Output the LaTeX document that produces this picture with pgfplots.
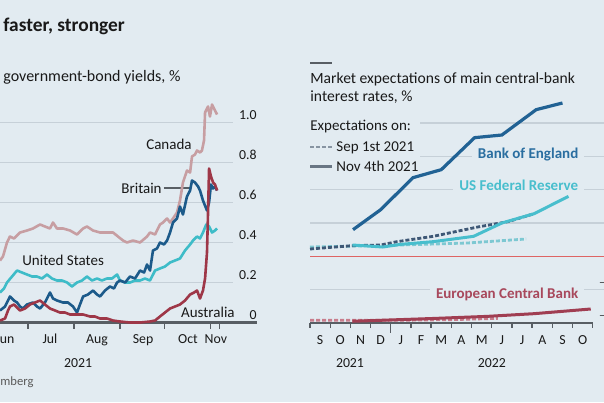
\documentclass[border=0pt]{standalone}
\usepackage{pgfplots}
\pgfplotsset{compat=1.18}
\usepackage{fontspec}
\setmainfont{Carlito}
\definecolor{bg}{RGB}{226,235,241}
\definecolor{gridc}{RGB}{198,208,216}
\definecolor{axc}{RGB}{88,94,100}
\definecolor{txt}{RGB}{25,25,25}
\definecolor{canada}{RGB}{199,158,162}
\definecolor{britain}{RGB}{28,90,138}
\definecolor{usc}{RGB}{62,188,200}
\definecolor{aus}{RGB}{158,55,72}
\definecolor{boe}{RGB}{33,98,148}
\definecolor{boelbl}{RGB}{42,110,160}
\definecolor{boesep}{RGB}{62,88,118}
\definecolor{fed}{RGB}{72,190,205}
\definecolor{fedsep}{RGB}{125,200,210}
\definecolor{ecb}{RGB}{160,62,82}
\definecolor{ecblbl}{RGB}{168,72,92}
\definecolor{ecbsep}{RGB}{200,125,140}
\definecolor{zeroc}{RGB}{222,100,100}
\definecolor{legdot}{RGB}{135,148,162}
\definecolor{legsol}{RGB}{105,118,132}
\definecolor{srcc}{RGB}{90,90,90}
\newcommand\lblfont{\fontsize{7.5}{9}\selectfont}
\newcommand\tickfont{\fontsize{6.9}{8}\selectfont}
\tikzset{
  grd/.style={gridc, line width=0.7pt},
  tk/.style={axc, line width=0.7pt},
  tl/.style={anchor=base, inner sep=0pt, font=\tickfont, text=txt},
  yl/.style={anchor=base east, inner sep=0pt, font=\tickfont, text=txt, yshift=1.4pt},
}
\begin{document}
\begin{tikzpicture}
\useasboundingbox (0pt,0pt) rectangle (302pt,-201pt);
\clip (0pt,0pt) rectangle (302pt,-201pt);
\fill[bg] (0pt,0pt) rectangle (302pt,-201pt);

% ---------------- left panel ----------------
\begin{axis}[at={(0pt,-161.25pt)}, anchor=south west, scale only axis,
  width=128.5pt, height=110pt, xmin=163, xmax=336.2, ymin=0, ymax=1.1,
  hide axis, clip=false]
\draw[grd] (axis cs:163,0.2) -- (axis cs:320,0.2);
\draw[grd] (axis cs:163,0.4) -- (axis cs:320,0.4);
\draw[grd] (axis cs:163,0.6) -- (axis cs:320,0.6);
\draw[grd] (axis cs:163,0.8) -- (axis cs:320,0.8);
\draw[grd] (axis cs:163,1.0) -- (axis cs:320,1.0);
\draw[axc, line width=1.1pt] (axis cs:163,0) -- (axis cs:336.2,0);
\draw[tk] (axis cs:182,0) -- ++(0pt,-3pt);
\draw[tk] (axis cs:213,0) -- ++(0pt,-3pt);
\draw[tk] (axis cs:244,0) -- ++(0pt,-3pt);
\draw[tk] (axis cs:274,0) -- ++(0pt,-3pt);
\draw[tk] (axis cs:305,0) -- ++(0pt,-3pt);
\draw[tk] (axis cs:311,0) -- ++(0pt,-3pt);
\node[yl] at (axis cs:336.2,1.0) {1.0};
\node[yl] at (axis cs:336.2,0.8) {0.8};
\node[yl] at (axis cs:336.2,0.6) {0.6};
\node[yl] at (axis cs:336.2,0.4) {0.4};
\node[yl] at (axis cs:336.2,0.2) {0.2};
\node[yl] at (axis cs:336.2,0) {0};
\node[tl, yshift=-10.25pt] at (axis cs:166.4,0) {Jun};
\node[tl, yshift=-10.25pt] at (axis cs:196.7,0) {Jul};
\node[tl, yshift=-10.25pt] at (axis cs:228.4,0) {Aug};
\node[tl, yshift=-10.25pt] at (axis cs:259.4,0) {Sep};
\node[tl, yshift=-10.25pt] at (axis cs:289.7,0) {Oct};
\node[tl, yshift=-10.25pt] at (axis cs:308.5,0) {Nov};
\node[tl, yshift=-22.25pt] at (axis cs:215.6,0) {2021};
\node[anchor=base east, inner sep=0pt, font=\lblfont, text=txt] at (axis cs:292.4,0.8675) {Canada};
\node[anchor=base east, inner sep=0pt, font=\lblfont, text=txt] at (axis cs:272.2,0.6475) {Britain};
\draw[axc, line width=0.6pt] (axis cs:273.5,0.6725) -- (axis cs:291.7,0.6725);
\node[anchor=base west, inner sep=0pt, font=\lblfont, text=txt] at (axis cs:177.8,0.2875) {United States};
\node[anchor=base east, inner sep=0pt, font=\lblfont, text=txt] at (axis cs:321.4,0.0275) {Australia};

\addplot[canada, line width=1.3pt, line join=round] coordinates {
(163,0.31) (165,0.33) (167.7,0.40) (169.7,0.43) (172.4,0.42) (176.5,0.45) (181.2,0.46)
(185.2,0.47) (190,0.49) (193.3,0.48) (196.7,0.47) (198.7,0.50) (201.4,0.47) (205.5,0.47)
(210.2,0.46) (214.9,0.44) (219,0.47) (221.6,0.48) (225.7,0.46) (230.4,0.45) (235.1,0.45)
(239.2,0.45) (242.5,0.43) (245.9,0.41) (248.6,0.40) (252.6,0.41) (257.4,0.40) (262.1,0.43)
(264.1,0.45) (267.5,0.44) (270.8,0.49) (272.9,0.50) (275.6,0.52) (277.6,0.50) (279.6,0.52)
(282.3,0.55) (284.3,0.61) (286.3,0.70) (289,0.76) (291.1,0.75) (292.4,0.83) (294.4,0.84)
(295.8,0.86) (297.8,0.85) (299.1,0.86) (300.5,0.91) (301.2,1.05) (303.2,1.08) (304.5,1.03)
(305.9,1.09) (307.9,1.06) (309.3,1.04)};
\addplot[usc, line width=1.3pt, line join=round] coordinates {
(163,0.15) (165.7,0.17) (167.7,0.20) (171.1,0.23) (174.5,0.26) (177.8,0.25) (181.2,0.24)
(184.6,0.23) (187.9,0.23) (191.3,0.22) (194.7,0.24) (198,0.22) (201.4,0.21) (204.8,0.21)
(208.2,0.20) (211.5,0.18) (214.9,0.20) (218.3,0.21) (221.6,0.23) (225,0.21) (228.4,0.22)
(231.7,0.21) (235.1,0.22) (238.5,0.22) (241.9,0.24) (243.9,0.21) (247.3,0.20) (250.6,0.20)
(254,0.21) (257.4,0.21) (260.7,0.22) (264.1,0.21) (267.5,0.26) (270.8,0.27) (274.2,0.28)
(277.6,0.30) (281,0.31) (284.3,0.32) (287.7,0.36) (291.1,0.39) (293.1,0.41) (295.8,0.43)
(297.8,0.42) (299.8,0.45) (302,0.49) (303.9,0.48) (305.9,0.45) (307.9,0.46) (309.3,0.47)};
\addplot[britain, line width=1.3pt, line join=round] coordinates {
(163,0.06) (166.4,0.08) (169.7,0.13) (172.4,0.11) (174.5,0.10) (176.5,0.08) (178.5,0.07)
(181.2,0.09) (185.2,0.10) (187.9,0.08) (190,0.07) (193.3,0.10) (196.7,0.15) (198.7,0.12)
(201.4,0.11) (205.5,0.10) (208.8,0.10) (212.2,0.08) (214.9,0.05) (216.9,0.09) (219,0.13)
(222.3,0.14) (225.7,0.16) (228.4,0.14) (230.4,0.13) (233.8,0.16) (237.1,0.18) (239.8,0.17)
(241.9,0.20) (243.9,0.21) (247.3,0.20) (250.6,0.23) (254,0.22) (257.4,0.26) (260.1,0.25)
(262.1,0.29) (264.1,0.26) (266.1,0.36) (268.8,0.37) (270.8,0.40) (273.5,0.39) (275.6,0.41)
(277.6,0.45) (279.6,0.50) (282.3,0.52) (284.3,0.58) (286.3,0.54) (289,0.63) (291.1,0.66)
(292.4,0.71) (294.4,0.70) (296.5,0.68) (297.8,0.66) (299.8,0.61) (302.5,0.56) (303.9,0.60)
(305.2,0.69) (306.6,0.67) (307.9,0.68) (309.3,0.66)};
\addplot[aus, line width=1.3pt, line join=round] coordinates {
(163,0.01) (166.4,0.02) (168.4,0.06) (169.7,0.08) (172.4,0.09) (176.5,0.06) (179.9,0.07)
(183.2,0.09) (186.6,0.10) (190,0.11) (193.3,0.09) (196.7,0.07) (200.1,0.06) (203.4,0.05)
(206.8,0.05) (210.2,0.04) (214.9,0.04) (219,0.04) (223.7,0.03) (227,0.03) (230.4,0.02)
(235.1,0.02) (239.2,0.01) (243.9,0.005) (250.6,0.0) (257.4,0.0) (264.1,0.005) (267.5,0.01)
(270.8,0.03) (274.2,0.05) (277.6,0.07) (281,0.08) (284.3,0.09) (287.7,0.11) (291.1,0.14)
(293.8,0.15) (295.8,0.16) (297.8,0.12) (299.8,0.16) (301.2,0.22) (302.5,0.35) (303.2,0.55)
(303.9,0.77) (305.2,0.73) (306.6,0.70) (307.9,0.69) (309.3,0.66)};
\end{axis}

% ---------------- right panel ----------------
\begin{axis}[at={(155pt,-161.5pt)}, anchor=south west, scale only axis,
  width=165pt, height=116.67pt, xmin=0, xmax=16.34, ymin=-0.5, ymax=1.25,
  hide axis, clip=false]
\draw[grd] (axis cs:5.45,1.0) -- (axis cs:16.34,1.0);
\draw[grd] (axis cs:5.45,0.75) -- (axis cs:16.34,0.75);
\draw[grd] (axis cs:0,0.5) -- (axis cs:16.34,0.5);
\draw[grd] (axis cs:0,0.25) -- (axis cs:16.34,0.25);
\draw[grd] (axis cs:0,-0.25) -- (axis cs:16.34,-0.25);
\draw[zeroc, line width=0.7pt] (axis cs:0,0) -- (axis cs:16.34,0);
\draw[axc, line width=1.1pt] (axis cs:0,-0.5) -- (axis cs:14,-0.5);
\draw[tk] (axis cs:0,-0.5) -- ++(0pt,-2.5pt);
\draw[tk] (axis cs:1,-0.5) -- ++(0pt,-2.5pt);
\draw[tk] (axis cs:2,-0.5) -- ++(0pt,-2.5pt);
\draw[tk] (axis cs:3,-0.5) -- ++(0pt,-2.5pt);
\draw[tk] (axis cs:4,-0.5) -- ++(0pt,-5pt);
\draw[tk] (axis cs:5,-0.5) -- ++(0pt,-2.5pt);
\draw[tk] (axis cs:6,-0.5) -- ++(0pt,-2.5pt);
\draw[tk] (axis cs:7,-0.5) -- ++(0pt,-2.5pt);
\draw[tk] (axis cs:8,-0.5) -- ++(0pt,-2.5pt);
\draw[tk] (axis cs:9,-0.5) -- ++(0pt,-2.5pt);
\draw[tk] (axis cs:10,-0.5) -- ++(0pt,-2.5pt);
\draw[tk] (axis cs:11,-0.5) -- ++(0pt,-2.5pt);
\draw[tk] (axis cs:12,-0.5) -- ++(0pt,-2.5pt);
\draw[tk] (axis cs:13,-0.5) -- ++(0pt,-2.5pt);
\draw[tk] (axis cs:14,-0.5) -- ++(0pt,-2.5pt);
\node[tl, yshift=-10.5pt] at (axis cs:0.5,-0.5) {S};
\node[tl, yshift=-10.5pt] at (axis cs:1.5,-0.5) {O};
\node[tl, yshift=-10.5pt] at (axis cs:2.5,-0.5) {N};
\node[tl, yshift=-10.5pt] at (axis cs:3.5,-0.5) {D};
\node[tl, yshift=-10.5pt] at (axis cs:4.5,-0.5) {J};
\node[tl, yshift=-10.5pt] at (axis cs:5.5,-0.5) {F};
\node[tl, yshift=-10.5pt] at (axis cs:6.5,-0.5) {M};
\node[tl, yshift=-10.5pt] at (axis cs:7.5,-0.5) {A};
\node[tl, yshift=-10.5pt] at (axis cs:8.5,-0.5) {M};
\node[tl, yshift=-10.5pt] at (axis cs:9.5,-0.5) {J};
\node[tl, yshift=-10.5pt] at (axis cs:10.5,-0.5) {J};
\node[tl, yshift=-10.5pt] at (axis cs:11.5,-0.5) {A};
\node[tl, yshift=-10.5pt] at (axis cs:12.5,-0.5) {S};
\node[tl, yshift=-10.5pt] at (axis cs:13.5,-0.5) {O};
\node[tl, yshift=-22pt] at (axis cs:1.98,-0.5) {2021};
\node[tl, yshift=-22pt] at (axis cs:9.0,-0.5) {2022};
\node[anchor=base west, inner sep=0pt, font=\tickfont, text=txt, yshift=1.6pt] at (axis cs:14.26,-0.25) {$-$0.25};
\node[anchor=base west, inner sep=0pt, font=\tickfont, text=txt, yshift=1.6pt] at (axis cs:14.26,-0.5) {$-$0.50};
\node[anchor=base east, fill=bg, inner xsep=3pt, inner ysep=1.5pt, font=\bfseries\lblfont, text=boelbl, yshift=-1.2pt] at (axis cs:13.6,0.75) {Bank of England};
\node[anchor=base east, fill=bg, inner xsep=3pt, inner ysep=1.5pt, font=\bfseries\lblfont, text=fed] at (axis cs:13.6,0.495) {US Federal Reserve};
\node[anchor=base east, fill=bg, inner xsep=3pt, inner ysep=1.5pt, font=\bfseries\lblfont, text=ecblbl] at (axis cs:13.6,-0.319) {European Central Bank};

\addplot[ecbsep, line width=1.4pt, dash pattern=on 2pt off 1pt] coordinates {
(0,-0.48) (4,-0.48) (7,-0.475) (9.3,-0.465)};
\addplot[ecb, line width=1.5pt] coordinates {
(2.1,-0.487) (6.1,-0.466) (8.8,-0.45) (11.1,-0.43) (13.9,-0.395)};
\addplot[fedsep, line width=1.4pt, dash pattern=on 2pt off 1pt] coordinates {
(0,0.07) (4.5,0.085) (7.8,0.10) (10.7,0.13)};
\addplot[boesep, line width=1.4pt, dash pattern=on 2pt off 1pt] coordinates {
(0,0.055) (2.1,0.08) (3.5,0.085) (4.3,0.11) (6.1,0.15) (8.3,0.22) (9.8,0.26) (11.1,0.32)};
\addplot[fed, line width=1.5pt] coordinates {
(2.1,0.085) (3.6,0.07) (4.5,0.09) (6.1,0.11) (8.1,0.15) (9.5,0.25) (11.1,0.32) (12.8,0.45)};
\addplot[boe, line width=1.6pt] coordinates {
(2.13,0.20) (3.5,0.35) (5.1,0.59) (6.5,0.65) (8.15,0.89) (9.5,0.91) (11.2,1.10) (12.5,1.15)};
\end{axis}

% ---------------- titles, legend (pixel coordinates) ----------------
\begin{scope}[x=0.5pt,y=-0.5pt]
\node[anchor=base west, inner sep=0pt, font=\bfseries\fontsize{9.7}{11}\selectfont, text=txt] at (3,31.7) {faster, stronger};
\node[anchor=base west, inner sep=0pt, font=\fontsize{8}{10}\selectfont, text=txt] at (3,81.7) {government-bond yields, \%};
\node[anchor=base west, inner sep=0pt, font=\fontsize{6.3}{8}\selectfont, text=srcc] at (0,385) {mberg};
\draw[axc, line width=1pt] (310,63) -- (332,63);
\node[anchor=base west, inner sep=0pt, font=\fontsize{7.8}{10}\selectfont, text=txt] at (310,83.5) {Market expectations of main central-bank};
\node[anchor=base west, inner sep=0pt, font=\fontsize{7.8}{10}\selectfont, text=txt] at (310,101) {interest rates, \%};
\node[anchor=base west, inner sep=0pt, font=\lblfont, text=txt] at (310,130) {Expectations on:};
\draw[legdot, line width=1.4pt, dash pattern=on 2pt off 1pt] (310,147) -- (332,147);
\node[anchor=base west, inner sep=0pt, font=\lblfont, text=txt] at (336,151.7) {Sep 1st 2021};
\draw[legsol, line width=1.5pt] (310,166) -- (332,166);
\node[anchor=base west, inner sep=0pt, font=\lblfont, text=txt] at (336,171.7) {Nov 4th 2021};
\end{scope}
\end{tikzpicture}
\end{document}
